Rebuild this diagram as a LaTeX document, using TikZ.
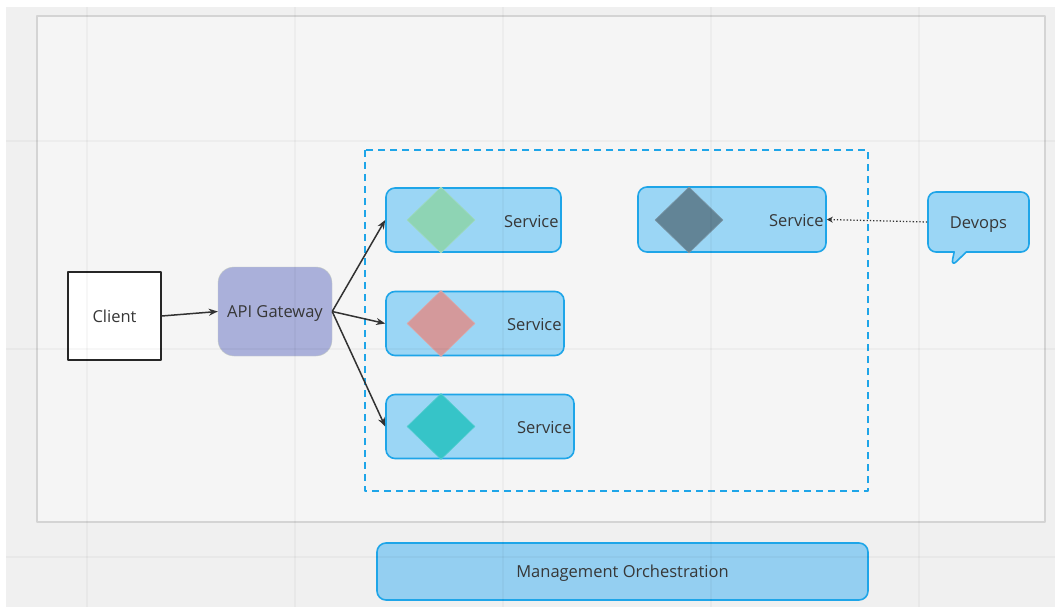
\documentclass[tikz,border=0pt]{standalone}
\usepackage{fontspec}
\setmainfont{Open Sans}
\usetikzlibrary{arrows.meta,shapes.geometric,shapes.callouts}
\definecolor{bggray}{RGB}{240,240,240}
\definecolor{panelfill}{RGB}{245,245,245}
\definecolor{panelline}{RGB}{212,212,212}
\definecolor{svcline}{RGB}{30,165,232}
\definecolor{svcfill}{RGB}{155,214,245}
\definecolor{mgmtfill}{RGB}{148,207,241}
\definecolor{gwfill}{RGB}{170,176,218}
\definecolor{gwline}{RGB}{196,204,196}
\definecolor{gemgreen}{RGB}{142,212,180}
\definecolor{gemred}{RGB}{212,153,155}
\definecolor{gemteal}{RGB}{54,196,200}
\definecolor{gemslate}{RGB}{98,132,150}
\definecolor{txtgray}{RGB}{55,55,55}
\definecolor{linkgray}{RGB}{50,50,50}

\tikzset{
  lbl/.style={text=txtgray,font=\fontsize{16.5}{19}\selectfont,inner sep=0pt,text height=12.5pt,text depth=0pt},
  svcbox/.style={draw=svcline,line width=1.6pt,fill=svcfill,rounded corners=9pt,inner sep=0pt},
  gem/.style={diamond,fill=#1,draw=#1!85!white,line width=0.6pt,inner sep=0pt,minimum width=68pt,minimum height=66pt},
  link/.style={draw=linkgray,line width=1.5pt,-{Stealth[length=9pt,width=7pt]}}
}

\begin{document}
\begin{tikzpicture}[x=1pt,y=-1pt,line join=round]
  \useasboundingbox (0,0) rectangle (1055,607);
  \fill[bggray] (6,7) rectangle (1055,607);
  \draw[line width=1.5pt,draw=panelline,fill=panelfill] (37,16) rectangle (1045,522);
  \draw[svcline,line width=1.8pt,dash pattern=on 7pt off 5pt] (365,150) rectangle (868,491);

  \node[lbl,draw=black!85,line width=1.5pt,fill=white,minimum width=93pt,minimum height=88pt] (client) at (114.5,316) {Client};
  \node[lbl,fill=gwfill,draw=gwline,rounded corners=16pt,minimum width=114pt,minimum height=89pt] (gw) at (275,311.5) {API Gateway};

  \foreach \i/\y/\w/\c in {1/220/175/gemgreen,2/323.5/178/gemred,3/426.5/188/gemteal}{
    \node[svcbox,minimum width=\w pt,minimum height=64pt] (s\i) at (386+\w/2,\y) {};
    \node[gem=\c] (g\i) at (441,\y) {};
    \node[lbl,anchor=east] (t\i) at ([xshift=-3pt,yshift=-1pt]s\i.east) {Service};
  }
  \node[svcbox,minimum width=188pt,minimum height=65pt] (s4) at (732,219.5) {};
  \node[gem=gemslate] (g4) at (689,220) {};
  \node[lbl,anchor=east] (t4) at ([xshift=-3pt,yshift=-1pt]s4.east) {Service};

  \node[lbl,rectangle callout,callout absolute pointer={(951,267)},callout pointer width=12pt,
        fill=svcfill,draw=svcline,line width=1.6pt,rounded corners=8pt,
        minimum width=101pt,minimum height=60pt] (devops) at (978.5,222) {Devops};
  \node[svcbox,lbl,fill=mgmtfill,minimum width=491pt,minimum height=57pt] (mgmt) at (622.5,571.5) {Management Orchestration};

  \draw[link] (client.east) -- (gw.west);
  \foreach \i in {1,2,3}
    \draw[link] (gw.east) -- (s\i.west);
  \draw[draw=linkgray,line width=1.3pt,dotted,-{Stealth[length=6pt,width=6pt]}] (devops.west) -- (s4.east);

  \foreach \gx in {87,295,503,711,919}
    \draw[black,opacity=0.03,line width=1.2pt] (\gx,7) -- (\gx,607);
  \foreach \gy in {141,349,557}
    \draw[black,opacity=0.03,line width=1.2pt] (6,\gy) -- (1055,\gy);
\end{tikzpicture}
\end{document}
